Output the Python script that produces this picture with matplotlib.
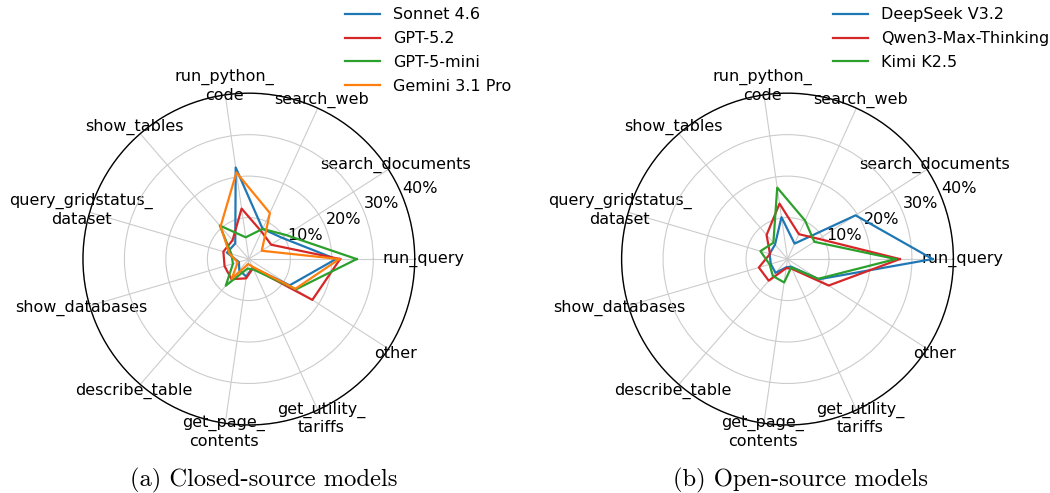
import numpy as np
import matplotlib.pyplot as plt
from matplotlib.ticker import FuncFormatter

categories = ['run_query', 'search_documents', 'search_web', 'run_python_\ncode',
              'show_tables', 'query_gridstatus_\ndataset', 'show_databases',
              'describe_table', 'get_page_\ncontents', 'get_utility_\ntariffs', 'other']

# share of tool calls (%), closed-source models
sonnet = [21.0, 9.5, 8.0, 22.3, 5.0, 5.5, 2.5, 3.5, 4.3, 2.2, 11.7]
gpt52 = [22.0, 6.4, 7.3, 12.3, 6.0, 6.4, 6.1, 6.4, 4.7, 2.4, 18.2]
gpt5mini = [26.0, 10.7, 8.0, 5.3, 10.7, 4.4, 4.0, 8.5, 2.3, 2.8, 13.5]
gemini = [21.8, 3.7, 12.2, 21.1, 10.4, 4.9, 2.8, 6.3, 1.2, 2.0, 13.3]

# open-source models
deepseek = [35.0, 19.5, 4.1, 10.2, 4.6, 4.5, 4.2, 4.4, 2.0, 2.0, 9.0]
qwen = [27.1, 9.0, 6.6, 13.5, 7.7, 4.4, 7.2, 6.9, 2.2, 2.6, 11.8]
kimi = [26.1, 7.7, 10.2, 17.4, 5.2, 6.8, 4.5, 5.4, 5.7, 2.2, 8.8]

closed = [('Sonnet 4.6', sonnet, 'tab:blue'), ('GPT-5.2', gpt52, 'tab:red'),
          ('GPT-5-mini', gpt5mini, 'tab:green'), ('Gemini 3.1 Pro', gemini, 'tab:orange')]
opened = [('DeepSeek V3.2', deepseek, 'tab:blue'), ('Qwen3-Max-Thinking', qwen, 'tab:red'),
          ('Kimi K2.5', kimi, 'tab:green')]

angles = np.linspace(0, 2 * np.pi, len(categories), endpoint=False)
closed_angles = np.append(angles, angles[0])

fig = plt.figure(figsize=(10.5, 4.93), dpi=100)
FS = 11.5


def radar(ax, models):
    for name, vals, col in models:
        ax.plot(closed_angles, list(vals) + [vals[0]], color=col, lw=1.6, label=name)
    ax.set_xticks(angles)
    ax.set_xticklabels(categories, fontsize=FS)
    ax.set_ylim(0, 40)
    ax.set_yticks([10, 20, 30, 40])
    ax.yaxis.set_major_formatter(FuncFormatter(lambda v, p: f'{v:.0f}%'))
    ax.tick_params(axis='y', labelsize=FS)
    ax.tick_params(axis='x', pad=-4)
    ax.grid(color='#cccccc', lw=0.8)
    ax.spines['polar'].set_linewidth(1.0)


ax1 = fig.add_axes([0.079, 0.138, 0.316, 0.673], projection='polar')
radar(ax1, closed)
ax2 = fig.add_axes([0.592, 0.138, 0.316, 0.673], projection='polar')
radar(ax2, opened)

fig.legend(handles=ax1.get_lines(), loc='upper left', bbox_to_anchor=(0.3225, 0.998),
           frameon=False, fontsize=FS, handlelength=2.2, borderaxespad=0, labelspacing=0.55)
fig.legend(handles=ax2.get_lines(), loc='upper left', bbox_to_anchor=(0.787, 0.998),
           frameon=False, fontsize=FS, handlelength=2.2, borderaxespad=0, labelspacing=0.55)

fig.text(0.251, 0.025, '(a) Closed-source models', ha='center', va='center',
         family=['cmr10', 'DejaVu Serif'], fontsize=17.7)
fig.text(0.762, 0.025, '(b) Open-source models', ha='center', va='center',
         family=['cmr10', 'DejaVu Serif'], fontsize=17.7)

fig.savefig('out.png', dpi=100)
